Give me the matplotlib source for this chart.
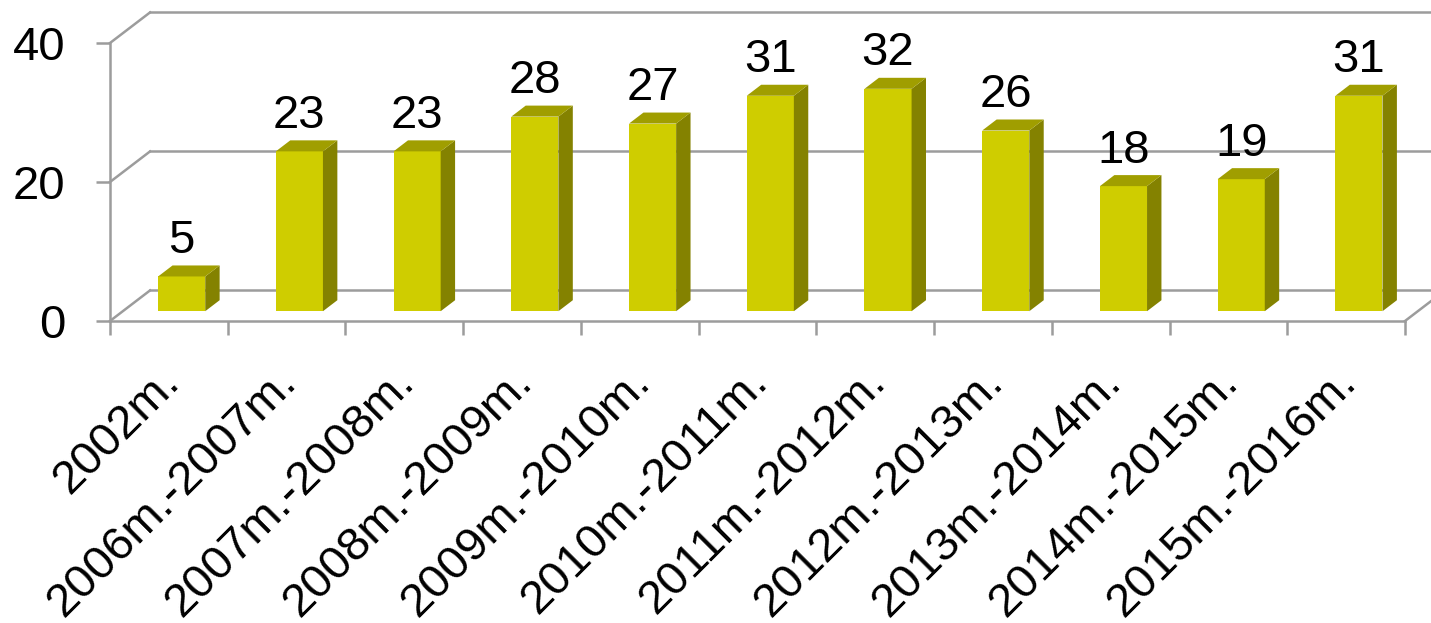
import matplotlib
matplotlib.use('Agg')
import matplotlib.pyplot as plt
import numpy as np
from matplotlib.patches import Polygon
from matplotlib.transforms import ScaledTranslation

categories = ['2002m.', '2006m.-2007m.', '2007m.-2008m.', '2008m.-2009m.',
              '2009m.-2010m.', '2010m.-2011m.', '2011m.-2012m.', '2012m.-2013m.',
              '2013m.-2014m.', '2014m.-2015m.', '2015m.-2016m.']
values = [5, 23, 23, 28, 27, 31, 32, 26, 18, 19, 31]
y_ticks = [0, 20, 40]

plt.rcParams['font.family'] = ['Liberation Sans', 'DejaVu Sans']

W, H = 1431, 623
fig = plt.figure(figsize=(W / 100, H / 100), dpi=100)
ax = fig.add_axes([110 / W, 302 / H, 1295 / W, 278 / H])
n = len(categories)
ax.set_xlim(0, n)
ax.set_ylim(0, 40)

# fake 3d: depth of the floor in data units
DX, DY = 0.34, 4.4
f0, f1 = 0.32, 0.68   # front / back face of the bars inside the depth
bw = 0.4
grid = '#9C9C9C'
lw = 1.8
fs = 34

# walls
for v in y_ticks:
    ax.plot([0, DX], [v, v + DY], color=grid, lw=lw, clip_on=False, zorder=1)
    ax.plot([DX, n + DX], [v + DY, v + DY], color=grid, lw=lw, clip_on=False, zorder=1)
ax.plot([n, n + DX], [0, DY], color=grid, lw=lw, clip_on=False, zorder=1)

# bars
ox0, oy0 = f0 * DX, f0 * DY
ox1, oy1 = f1 * DX, f1 * DY
for i, v in enumerate(values):
    x0 = i + 0.5 - bw / 2
    x1 = x0 + bw
    front = [(x0 + ox0, oy0), (x1 + ox0, oy0), (x1 + ox0, v + oy0), (x0 + ox0, v + oy0)]
    side = [(x1 + ox0, oy0), (x1 + ox1, oy1), (x1 + ox1, v + oy1), (x1 + ox0, v + oy0)]
    top = [(x0 + ox0, v + oy0), (x1 + ox0, v + oy0), (x1 + ox1, v + oy1), (x0 + ox1, v + oy1)]
    ax.add_patch(Polygon(front, closed=True, facecolor='#CFCD00', edgecolor='none', zorder=3))
    ax.add_patch(Polygon(side, closed=True, facecolor='#848200', edgecolor='none', zorder=3))
    ax.add_patch(Polygon(top, closed=True, facecolor='#A09E00', edgecolor='none', zorder=3))
    ax.annotate(str(v), (i + 0.5 + ox0, v + oy1), xytext=(0, 9), textcoords='offset points',
                ha='center', va='baseline', fontsize=fs, color='black', zorder=4)

for s in ['top', 'right']:
    ax.spines[s].set_visible(False)
for s in ['left', 'bottom']:
    ax.spines[s].set_color(grid)
    ax.spines[s].set_linewidth(lw)

ax.set_yticks(y_ticks)
ax.tick_params(axis='y', length=10, width=lw, color=grid, pad=22, labelsize=fs)
ax.set_xticks(np.arange(n) + 0.5, categories, rotation=45, ha='right', va='baseline',
              rotation_mode='anchor')
ax.set_xticks(np.arange(n + 1), minor=True)
ax.tick_params(axis='x', which='major', length=0, pad=45, labelsize=fs)
ax.tick_params(axis='x', which='minor', length=10, width=lw, color=grid)
offset = ScaledTranslation(12 / 100, 0, fig.dpi_scale_trans)
for lbl in ax.get_xticklabels():
    lbl.set_transform(lbl.get_transform() + offset)

fig.savefig('out.png', dpi=100)
